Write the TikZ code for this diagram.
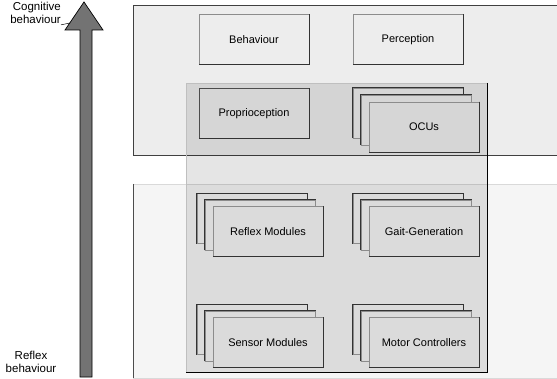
\documentclass[tikz,border=0pt]{standalone}
\usepackage{fontspec}
\setmainfont{Liberation Sans}
\begin{document}
\begin{tikzpicture}[x=1pt,y=-1pt]
			\tikzstyle{panel} = [draw=black!75, line width=0.8pt]
			\tikzstyle{mod} = [draw=black!45, line width=0.7pt, minimum width=110, minimum height=50, inner sep=0pt, font=\fontsize{11}{13}\selectfont]
			\tikzstyle{edge} = [black!80, line width=0.8pt]
			\tikzstyle{lbl} = [inner sep=0pt, font=\fontsize{11.5}{13}\selectfont]
			\useasboundingbox (0,0) rectangle (557,379);

			% layers
			\fill [black!7] (133,5) rectangle (557,155);
			\draw [panel] (557,5) -- (133,5) -- (133,155) -- (557,155);
			\fill [black!4] (133,184) rectangle (557,378);
			\draw [black!15, line width=0.6pt] (557,184) -- (133,184) -- (133,378) -- (557,378);
			\draw [black!70, line width=0.8pt] (133,184) -- (133,378);

			\node [mod, fill=black!7] (beh) at (254,39.5) {Behaviour};
			\node [mod, fill=black!7] (perc) at (408,39.5) {Perception};

			% shared part
			\fill [black, fill opacity=0.1] (186,83) rectangle (487,372);
			\draw [black!25, line width=0.6pt] (186,372) -- (186,83) -- (487,83);
			\draw [black, line width=0.8pt] (487,83) -- (487,372) -- (186,372);

			\node [mod, draw=black!70, fill=black!16] (prop) at (254,113.5) {Proprioception};

			\node [mod, fill=black!16] (ocu3) at (408,113) {};
			\node [mod, fill=black!16] (ocu2) at (416,120) {};
			\node [mod, fill=black!16] (ocu) at (424,127) {OCUs};

			\node [mod, fill=black!14] (rfx3) at (252,218.5) {};
			\node [mod, fill=black!14] (rfx2) at (260,225) {};
			\node [mod, fill=black!14] (rfx) at (268,231.5) {Reflex Modules};

			\node [mod, fill=black!14] (gait3) at (408,218.5) {};
			\node [mod, fill=black!14] (gait2) at (416,225) {};
			\node [mod, fill=black!14] (gait) at (424,231.5) {Gait-Generation};

			\node [mod, fill=black!14] (sen3) at (252,329.5) {};
			\node [mod, fill=black!14] (sen2) at (260,336) {};
			\node [mod, fill=black!14] (sen) at (268,342.5) {Sensor Modules};

			\node [mod, fill=black!14] (mot3) at (408,329.5) {};
			\node [mod, fill=black!14] (mot2) at (416,336) {};
			\node [mod, fill=black!14] (mot) at (424,342.5) {Motor Controllers};

			% dark edges of the boxes
			\foreach \b in {beh,perc,prop,ocu,rfx,gait,sen,mot}
				\draw [edge] (\b.north east) -- (\b.south east) -- (\b.south west);
			\foreach \b in {ocu3,ocu2,rfx3,rfx2,gait3,gait2,sen3,sen2,mot3,mot2}
				\draw [edge] (\b.south west) -- (\b.north west) -- (\b.north east) -- (\b.south east);
			\node [mod, draw=black!45, fill=black!16] at (ocu2) {};
			\node [mod, draw=black!45, fill=black!16] at (ocu) {OCUs};
			\draw [edge] (ocu.north east) -- (ocu.south east) -- (ocu.south west);
			\foreach \b/\c in {rfx2/rfx,gait2/gait,sen2/sen,mot2/mot}
			{
				\node [mod, fill=black!14] at (\b) {};
				\draw [edge] (\b.south west) -- (\b.north west);
			}
			\node [mod, fill=black!14] at (rfx) {Reflex Modules};
			\node [mod, fill=black!14] at (gait) {Gait-Generation};
			\node [mod, fill=black!14] at (sen) {Sensor Modules};
			\node [mod, fill=black!14] at (mot) {Motor Controllers};
			\foreach \b in {rfx,gait,sen,mot}
				\draw [edge] (\b.north east) -- (\b.south east) -- (\b.south west);

			% arrow
			\draw [fill=black!55, line width=0.7pt] (80,377) -- (80,30) -- (65,30) -- (84,2) -- (103,30) -- (92,30) -- (92,377) -- cycle;
			\coordinate (head) at (70,23);

			\node [lbl, align=right, anchor=north east] (cog) at (61,2) {Cognitive\\behaviour};
			\draw [line width=0.5pt] (cog.south east) ++(0,1) -- (head);
			\node [lbl, align=center] (rfl) at (31,362) {Reflex\\behaviour};
\end{tikzpicture}
\end{document}
